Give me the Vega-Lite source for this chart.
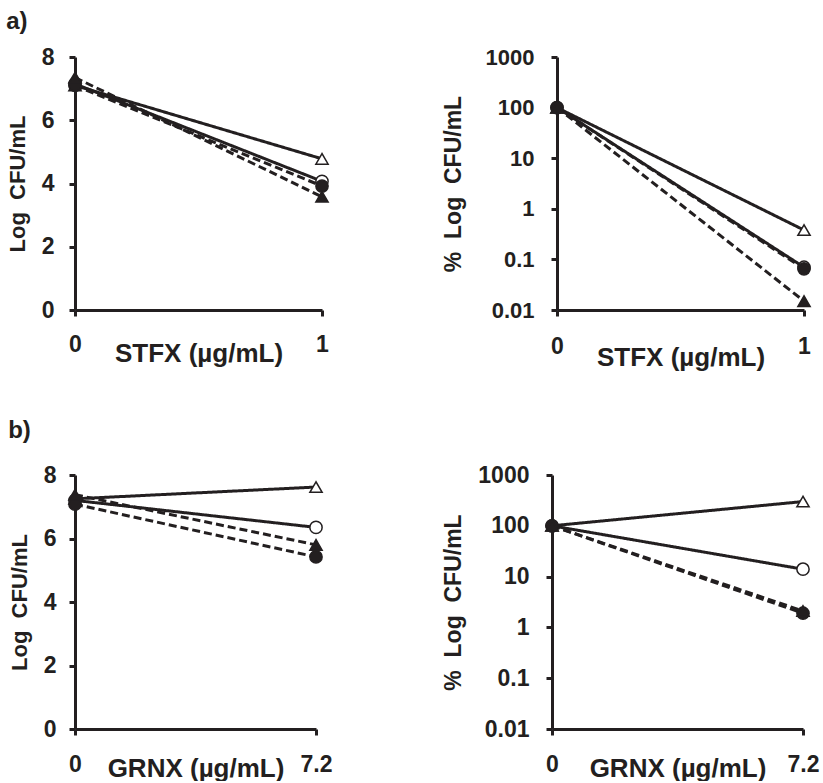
{
  "$schema": "https://vega.github.io/schema/vega-lite/v6.json",
  "background": "white",
  "padding": {"left": 6, "top": 10, "right": 2, "bottom": 0},
  "datasets": {
    "pts": [
      {"panel": "aL", "series": "openTri", "x": 0, "y": 7.1},
      {"panel": "aL", "series": "openTri", "x": 1, "y": 4.78},
      {"panel": "aL", "series": "openCirc", "x": 0, "y": 7.15},
      {"panel": "aL", "series": "openCirc", "x": 1, "y": 4.07},
      {"panel": "aL", "series": "fillCirc", "x": 0, "y": 7.1},
      {"panel": "aL", "series": "fillCirc", "x": 1, "y": 3.92},
      {"panel": "aL", "series": "fillTri", "x": 0, "y": 7.35},
      {"panel": "aL", "series": "fillTri", "x": 1, "y": 3.58},
      {"panel": "aR", "series": "openTri", "x": 0, "y": 100},
      {"panel": "aR", "series": "openTri", "x": 1, "y": 0.38},
      {"panel": "aR", "series": "openCirc", "x": 0, "y": 100},
      {"panel": "aR", "series": "openCirc", "x": 1, "y": 0.07},
      {"panel": "aR", "series": "fillCirc", "x": 0, "y": 100},
      {"panel": "aR", "series": "fillCirc", "x": 1, "y": 0.065},
      {"panel": "aR", "series": "fillTri", "x": 0, "y": 100},
      {"panel": "aR", "series": "fillTri", "x": 1, "y": 0.015},
      {"panel": "bL", "series": "openTri", "x": 0, "y": 7.25},
      {"panel": "bL", "series": "openTri", "x": 7.2, "y": 7.62},
      {"panel": "bL", "series": "openCirc", "x": 0, "y": 7.2},
      {"panel": "bL", "series": "openCirc", "x": 7.2, "y": 6.35},
      {"panel": "bL", "series": "fillCirc", "x": 0, "y": 7.08},
      {"panel": "bL", "series": "fillCirc", "x": 7.2, "y": 5.42},
      {"panel": "bL", "series": "fillTri", "x": 0, "y": 7.38},
      {"panel": "bL", "series": "fillTri", "x": 7.2, "y": 5.8},
      {"panel": "bR", "series": "openTri", "x": 0, "y": 100},
      {"panel": "bR", "series": "openTri", "x": 7.2, "y": 300},
      {"panel": "bR", "series": "openCirc", "x": 0, "y": 100},
      {"panel": "bR", "series": "openCirc", "x": 7.2, "y": 14},
      {"panel": "bR", "series": "fillCirc", "x": 0, "y": 100},
      {"panel": "bR", "series": "fillCirc", "x": 7.2, "y": 1.9},
      {"panel": "bR", "series": "fillTri", "x": 0, "y": 100},
      {"panel": "bR", "series": "fillTri", "x": 7.2, "y": 2.1}
    ]
  },
  "config": {
    "view": {"stroke": null},
    "font": "Liberation Sans",
    "axis": {
      "grid": false,
      "labelFlush": false,
      "domainColor": "#231f20",
      "domainWidth": 3,
      "tickColor": "#231f20",
      "tickWidth": 3,
      "tickSize": 6,
      "labelFont": "Liberation Sans",
      "labelFontWeight": "bold",
      "labelFontSize": 23,
      "labelColor": "#231f20",
      "titleFont": "Liberation Sans",
      "titleFontWeight": "bold",
      "titleColor": "#231f20",
      "titleFontSize": 22
    },
    "axisX": {"titleFontSize": 26, "labelExpr": "'' + datum.value"},
    "title": {"font": "Liberation Sans", "fontWeight": "bold", "fontSize": 24, "color": "#231f20", "anchor": "start"}
  },
  "vconcat": [
    {
      "title": {"text": "a)", "frame": "bounds", "anchor": "start", "offset": 12},
      "spacing": 110,
      "hconcat": [
        {
          "width": 247, "height": 253,
          "data": {"name": "pts"},
          "transform": [{"filter": "datum.panel === 'aL'"}],
          "encoding": {
            "x": {"field": "x", "type": "quantitative", "scale": {"domain": [0, 1], "nice": false, "zero": false},
              "axis": {"values": [0, 1], "title": "STFX (µg/mL)", "labelPadding": 17, "titlePadding": -16}},
            "y": {"field": "y", "type": "quantitative", "scale": {"domain": [0, 8], "nice": false},
              "axis": {"values": [0, 2, 4, 6, 8], "title": "Log\u00a0 CFU/mL", "labelPadding": 15, "titlePadding": 12}}
          },
          "layer": [
            {"mark": {"type": "line", "strokeWidth": 3, "color": "#231f20"},
              "encoding": {"detail": {"field": "series"},
                "strokeDash": {"field": "series", "type": "nominal", "legend": null,
                  "scale": {"domain": ["openTri", "openCirc", "fillCirc", "fillTri"], "range": [[1, 0], [1, 0], [8, 4], [8, 4]]}}}},
            {"mark": {"type": "point", "filled": true, "size": 150, "stroke": "#231f20", "strokeWidth": 1.5, "opacity": 1},
              "encoding": {
                "shape": {"field": "series", "type": "nominal", "legend": null,
                  "scale": {"domain": ["openTri", "openCirc", "fillCirc", "fillTri"], "range": ["triangle-up", "circle", "circle", "triangle-up"]}},
                "fill": {"field": "series", "type": "nominal", "legend": null,
                  "scale": {"domain": ["openTri", "openCirc", "fillCirc", "fillTri"], "range": ["white", "white", "#231f20", "#231f20"]}}}}
          ]
        },
        {
          "width": 247, "height": 253,
          "data": {"name": "pts"},
          "transform": [{"filter": "datum.panel === 'aR'"}],
          "encoding": {
            "x": {"field": "x", "type": "quantitative", "scale": {"domain": [0, 1], "nice": false, "zero": false},
              "axis": {"values": [0, 1], "title": "STFX (µg/mL)", "labelPadding": 19, "titlePadding": -14}},
            "y": {"field": "y", "type": "quantitative", "scale": {"type": "log", "domain": [0.01, 1000], "nice": false},
              "axis": {"values": [0.01, 0.1, 1, 10, 100, 1000], "format": "~g", "title": "%\u00a0 Log\u00a0 CFU/mL", "titleFontSize": 23, "labelFontSize": 22, "labelPadding": 17, "titlePadding": 20}}
          },
          "layer": [
            {"mark": {"type": "line", "strokeWidth": 3, "color": "#231f20"},
              "encoding": {"detail": {"field": "series"},
                "strokeDash": {"field": "series", "type": "nominal", "legend": null,
                  "scale": {"domain": ["openTri", "openCirc", "fillCirc", "fillTri"], "range": [[1, 0], [1, 0], [8, 4], [8, 4]]}}}},
            {"mark": {"type": "point", "filled": true, "size": 150, "stroke": "#231f20", "strokeWidth": 1.5, "opacity": 1},
              "encoding": {
                "shape": {"field": "series", "type": "nominal", "legend": null,
                  "scale": {"domain": ["openTri", "openCirc", "fillCirc", "fillTri"], "range": ["triangle-up", "circle", "circle", "triangle-up"]}},
                "fill": {"field": "series", "type": "nominal", "legend": null,
                  "scale": {"domain": ["openTri", "openCirc", "fillCirc", "fillTri"], "range": ["white", "white", "#231f20", "#231f20"]}}}}
          ]
        }
      ]
    },
    {
      "title": {"text": "b)", "frame": "bounds", "anchor": "start", "offset": 21},
      "spacing": 110,
      "hconcat": [
        {
          "width": 241, "height": 254,
          "data": {"name": "pts"},
          "transform": [{"filter": "datum.panel === 'bL'"}],
          "encoding": {
            "x": {"field": "x", "type": "quantitative", "scale": {"domain": [0, 7.2], "nice": false, "zero": false},
              "axis": {"values": [0, 7.2], "title": "GRNX (µg/mL)", "labelPadding": 18, "titlePadding": -21}},
            "y": {"field": "y", "type": "quantitative", "scale": {"domain": [0, 8], "nice": false},
              "axis": {"values": [0, 2, 4, 6, 8], "title": "Log\u00a0 CFU/mL", "labelPadding": 13, "titlePadding": 12}}
          },
          "layer": [
            {"mark": {"type": "line", "strokeWidth": 3, "color": "#231f20"},
              "encoding": {"detail": {"field": "series"},
                "strokeDash": {"field": "series", "type": "nominal", "legend": null,
                  "scale": {"domain": ["openTri", "openCirc", "fillCirc", "fillTri"], "range": [[1, 0], [1, 0], [8, 4], [8, 4]]}}}},
            {"mark": {"type": "point", "filled": true, "size": 150, "stroke": "#231f20", "strokeWidth": 1.5, "opacity": 1},
              "encoding": {
                "shape": {"field": "series", "type": "nominal", "legend": null,
                  "scale": {"domain": ["openTri", "openCirc", "fillCirc", "fillTri"], "range": ["triangle-up", "circle", "circle", "triangle-up"]}},
                "fill": {"field": "series", "type": "nominal", "legend": null,
                  "scale": {"domain": ["openTri", "openCirc", "fillCirc", "fillTri"], "range": ["white", "white", "#231f20", "#231f20"]}}}}
          ]
        },
        {
          "width": 251, "height": 254,
          "data": {"name": "pts"},
          "transform": [{"filter": "datum.panel === 'bR'"}],
          "encoding": {
            "x": {"field": "x", "type": "quantitative", "scale": {"domain": [0, 7.2], "nice": false, "zero": false},
              "axis": {"values": [0, 7.2], "title": "GRNX (µg/mL)", "labelPadding": 18, "titlePadding": -21}},
            "y": {"field": "y", "type": "quantitative", "scale": {"type": "log", "domain": [0.01, 1000], "nice": false},
              "axis": {"values": [0.01, 0.1, 1, 10, 100, 1000], "format": "~g", "title": "%\u00a0 Log\u00a0 CFU/mL", "titleFontSize": 23, "labelPadding": 17, "titlePadding": 12}}
          },
          "layer": [
            {"mark": {"type": "line", "strokeWidth": 3, "color": "#231f20"},
              "encoding": {"detail": {"field": "series"},
                "strokeDash": {"field": "series", "type": "nominal", "legend": null,
                  "scale": {"domain": ["openTri", "openCirc", "fillCirc", "fillTri"], "range": [[1, 0], [1, 0], [8, 4], [8, 4]]}}}},
            {"mark": {"type": "point", "filled": true, "size": 150, "stroke": "#231f20", "strokeWidth": 1.5, "opacity": 1},
              "encoding": {
                "shape": {"field": "series", "type": "nominal", "legend": null,
                  "scale": {"domain": ["openTri", "openCirc", "fillCirc", "fillTri"], "range": ["triangle-up", "circle", "circle", "triangle-up"]}},
                "fill": {"field": "series", "type": "nominal", "legend": null,
                  "scale": {"domain": ["openTri", "openCirc", "fillCirc", "fillTri"], "range": ["white", "white", "#231f20", "#231f20"]}}}}
          ]
        }
      ]
    }
  ],
  "spacing": 49
}
